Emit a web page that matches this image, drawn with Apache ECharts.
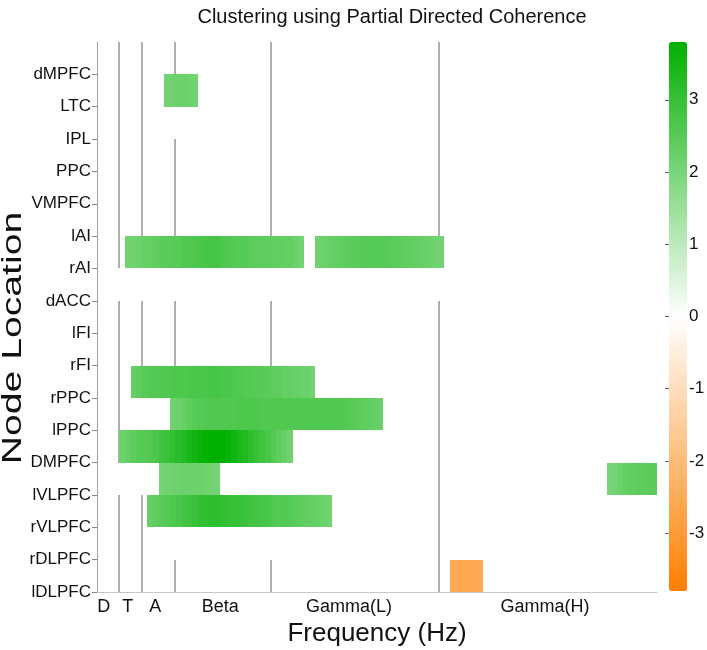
<!DOCTYPE html>
<html><head><meta charset="utf-8">
<script src="https://cdn.jsdelivr.net/npm/echarts@6/dist/echarts.min.js"></script>
<style>html,body{margin:0;padding:0;background:#fff}#c{width:707px;height:650px}</style>
</head><body><div id="c"></div>
<script>
// Node labels, top to bottom
const nodes = ['dMPFC','LTC','IPL','PPC','VMPFC','lAI','rAI','dACC','lFI','rFI','rPPC','lPPC','DMPFC','lVLPFC','rVLPFC','rDLPFC','lDLPFC'];
// Frequency band boundaries (Hz) and band labels
const bandEdges = [4, 8, 14, 31, 61];
const bandLabels = ['D','T','A','Beta','Gamma(L)','Gamma(H)'];
const bandLabelFreqs = [1.2, 5.5, 10.4, 22, 45, 80];
const colorTicks = [-3, -2, -1, 0, 1, 2, 3];
const colorMin = -3.8, colorMax = 3.8;

// Significant segments: node, first frequency bin (Hz), values per 1-Hz bin
const segNodes  = ['dMPFC','lAI','lAI','rFI','rPPC','lPPC','DMPFC','DMPFC','lVLPFC','rDLPFC'];
const segStarts = [12, 5, 39, 6, 13, 4, 11, 91, 9, 63];
const segValues = [
  [2.1,2.15,2.2,2.2,2.15,2.1],
  [2.15,2.15,2.2,2.3,2.3,2.35,2.45,2.45,2.5,2.5,2.6,2.6,2.65,2.7,2.75,2.75,2.75,2.65,2.6,2.55,2.5,2.5,2.45,2.4,2.4,2.4,2.35,2.35,2.3,2.3,2.2,2.1],
  [2.15,2.2,2.25,2.3,2.35,2.4,2.45,2.45,2.5,2.5,2.5,2.5,2.5,2.45,2.45,2.4,2.35,2.3,2.3,2.25,2.2,2.15,2.1],
  [2.3,2.4,2.5,2.55,2.55,2.6,2.6,2.65,2.65,2.65,2.7,2.7,2.7,2.7,2.75,2.75,2.7,2.7,2.65,2.6,2.55,2.55,2.5,2.5,2.45,2.4,2.4,2.3,2.3,2.25,2.2,2.2,2.1],
  [2.15,2.2,2.3,2.4,2.5,2.55,2.6,2.6,2.6,2.6,2.6,2.6,2.65,2.65,2.65,2.65,2.6,2.6,2.6,2.6,2.6,2.6,2.6,2.6,2.6,2.6,2.6,2.6,2.6,2.6,2.6,2.55,2.5,2.45,2.4,2.35,2.3,2.25],
  [2.2,2.3,2.4,2.5,2.55,2.6,2.7,2.85,2.95,3.05,3.2,3.3,3.45,3.55,3.65,3.75,3.8,3.8,3.8,3.7,3.55,3.4,3.3,3.15,3.0,2.85,2.7,2.55,2.4,2.3,2.15],
  [2.05,2.1,2.15,2.15,2.2,2.2,2.2,2.2,2.15,2.1,2.05],
  [2.0,2.1,2.2,2.3,2.35,2.4,2.4,2.45,2.45],
  [2.3,2.4,2.45,2.55,2.65,2.7,2.8,2.85,2.95,3.05,3.1,3.15,3.15,3.1,3.05,3.0,2.95,2.9,2.85,2.8,2.75,2.7,2.6,2.55,2.55,2.5,2.45,2.4,2.35,2.3,2.25,2.2,2.15],
  [-2.5,-2.55,-2.6,-2.6,-2.6,-2.55]
];
// Zero-valued (white) cells: node, from Hz, to Hz
const zeroNodes  = ['LTC','rAI','rPPC','lPPC','DMPFC','DMPFC','lVLPFC','rVLPFC'];
const zeroStarts = [12, 3, 6, 35, 3, 22, 91, 9];
const zeroEnds   = [18, 62, 13, 51, 11, 35, 100, 42];

const N = nodes.length - 1;
const cells = [];
segNodes.forEach((n, s) => {
  const y = N - nodes.indexOf(n);
  segValues[s].forEach((v, k) => cells.push([segStarts[s] + k, segStarts[s] + k + 1, y, v]));
});
zeroNodes.forEach((n, s) => {
  const y = N - nodes.indexOf(n);
  for (let f = zeroStarts[s]; f < zeroEnds[s]; f++) cells.push([f, f + 1, y, 0]);
});

const FONT = 'Liberation Sans, Arial, sans-serif';
const yVals = nodes.map((_, i) => i);
const chart = echarts.init(document.getElementById('c'));
chart.setOption({
  animation: false,
  backgroundColor: '#ffffff',
  title: {
    text: 'Clustering using Partial Directed Coherence',
    left: 392, top: 7, padding: 0, textAlign: 'center',
    textStyle: { fontFamily: FONT, fontSize: 20, fontWeight: 'normal', color: '#111' }
  },
  graphic: [{
    type: 'text', x: 14, y: 338, rotation: Math.PI / 2, scaleX: 1.45, silent: true,
    style: { text: 'Node Location', font: '27px ' + FONT, fill: '#111', align: 'center', verticalAlign: 'middle' }
  }],
  grid: [
    { left: 97, right: 50, top: 42, bottom: 58, containLabel: false, outerBoundsMode: 'none' },
    { left: 669, width: 18, top: 42, height: 549, containLabel: false, outerBoundsMode: 'none' }
  ],
  xAxis: [
    {
      type: 'value', min: 0, max: 100, gridIndex: 0,
      name: 'Frequency (Hz)', nameLocation: 'middle', nameGap: 23,
      nameTextStyle: { fontFamily: FONT, fontSize: 26, color: '#111' },
      axisLine: { show: true, lineStyle: { color: '#c8c8c8', width: 1 } },
      axisTick: { show: false },
      splitLine: { show: false },
      axisLabel: {
        customValues: bandLabelFreqs, margin: 6,
        fontFamily: FONT, fontSize: 18, color: '#111',
        formatter: v => bandLabels[bandLabelFreqs.indexOf(v)]
      }
    },
    { type: 'value', gridIndex: 1, min: 0, max: 1, show: false }
  ],
  yAxis: [
    {
      type: 'value', min: 0, max: 17, gridIndex: 0,
      axisLine: { show: true, lineStyle: { color: '#a0a0a0', width: 1 } },
      axisTick: { show: true, customValues: yVals, length: 5, lineStyle: { color: '#888' } },
      splitLine: { show: false },
      axisLabel: {
        customValues: yVals, margin: 6,
        fontFamily: FONT, fontSize: 17, color: '#111',
        formatter: v => nodes[N - v]
      }
    },
    {
      type: 'value', gridIndex: 1, min: colorMin, max: colorMax, position: 'right',
      axisLine: { show: false },
      axisTick: { show: true, inside: true, length: 4, customValues: colorTicks, lineStyle: { color: '#666' } },
      splitLine: { show: false },
      axisLabel: { customValues: colorTicks, margin: 2, fontFamily: FONT, fontSize: 17, color: '#111' }
    },
    {
      type: 'value', gridIndex: 1, min: colorMin, max: colorMax, position: 'left',
      axisLine: { show: false },
      axisTick: { show: true, inside: true, length: 4, customValues: colorTicks, lineStyle: { color: '#666' } },
      splitLine: { show: false },
      axisLabel: { show: false }
    }
  ],
  visualMap: {
    type: 'continuous', min: colorMin, max: colorMax, dimension: 3, seriesIndex: [1],
    calculable: false, hoverLink: false, padding: 0,
    left: 669, top: 42, itemWidth: 18, itemHeight: 549,
    inRange: { color: ['#ff7f00', '#ffffff', '#00b000'] }
  },
  series: [
    {
      type: 'custom', xAxisIndex: 0, yAxisIndex: 0, z: 1, silent: true,
      data: bandEdges.map(f => [f]),
      encode: { x: 0 },
      renderItem: (params, api) => {
        const a = api.coord([api.value(0), 0]);
        const b = api.coord([api.value(0), 17]);
        const x = Math.round(a[0]);
        return { type: 'line', shape: { x1: x, y1: a[1], x2: x, y2: b[1] }, style: { stroke: '#b0b0b0', lineWidth: 2 } };
      }
    },
    {
      type: 'custom', xAxisIndex: 0, yAxisIndex: 0, z: 2, silent: true,
      data: cells,
      encode: { x: [0, 1], y: 2 },
      renderItem: (params, api) => {
        const p0 = api.coord([api.value(0), api.value(2)]);
        const p1 = api.coord([api.value(1), api.value(2) - 1]);
        const l = Math.round(p0[0]), r = Math.round(p1[0]);
        const t = Math.round(p0[1]), b = Math.round(p1[1]);
        return { type: 'rect', shape: { x: l, y: t, width: r - l, height: b - t }, style: { fill: api.visual('color') } };
      }
    }
  ]
});
</script>
</body></html>
